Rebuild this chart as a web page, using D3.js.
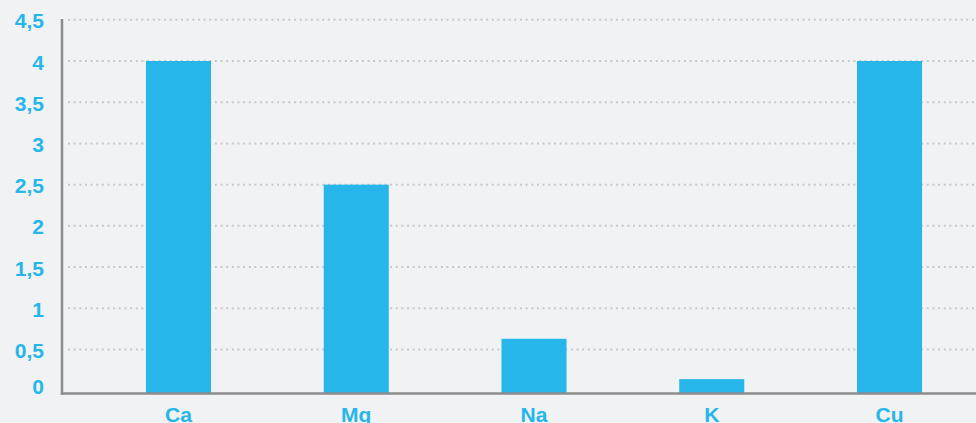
<!DOCTYPE html>
<html>
<head>
<meta charset="utf-8">
<script src="https://cdn.jsdelivr.net/npm/d3@7"></script>
<style>
  html, body { margin: 0; padding: 0; background: #f0f2f4; }
  svg { display: block; }
</style>
</head>
<body>
<script>
// chart data
const elements = ['Ca', 'Mg', 'Na', 'K', 'Cu'];
const amounts = [4, 2.5, 0.63, 0.14, 4];
const yTicks = [0, 0.5, 1, 1.5, 2, 2.5, 3, 3.5, 4, 4.5];

const width = 976, height = 423;
const blue = '#27b6ea';

const svg = d3.select('body').append('svg')
    .attr('width', width)
    .attr('height', height)
    .style('background', '#f0f2f4');

const x = d3.scaleBand()
    .domain(elements)
    .range([89.6, 978.4])
    .paddingInner(0.634)
    .paddingOuter(0.317);

const y = d3.scaleLinear()
    .domain([0, 4.5])
    .range([390.7, 19.8]);

const axisY = 393.6; // where the baseline is drawn

// dotted gridlines (not at zero)
svg.append('g')
    .selectAll('line')
    .data(yTicks.filter(d => d > 0))
    .join('line')
    .attr('x1', 68)
    .attr('x2', width)
    .attr('y1', d => y(d))
    .attr('y2', d => y(d))
    .attr('stroke', '#c6c8ca')
    .attr('stroke-width', 2)
    .attr('stroke-dasharray', '2,3.65');

// bars
svg.append('g')
    .selectAll('rect')
    .data(amounts)
    .join('rect')
    .attr('x', (d, i) => x(elements[i]))
    .attr('width', x.bandwidth())
    .attr('y', d => y(d))
    .attr('height', d => axisY - y(d))
    .attr('fill', blue);

// axes lines
svg.append('line')
    .attr('x1', 62).attr('x2', 62)
    .attr('y1', 19).attr('y2', axisY + 1.25)
    .attr('stroke', '#8c8c8c')
    .attr('stroke-width', 2.5);

svg.append('line')
    .attr('x1', 60.75).attr('x2', width)
    .attr('y1', axisY).attr('y2', axisY)
    .attr('stroke', '#8c8c8c')
    .attr('stroke-width', 2.5);

// y tick labels (the zero label sits a little above the baseline)
svg.append('g')
    .selectAll('text')
    .data(yTicks)
    .join('text')
    .attr('x', 44)
    .attr('y', d => d === 0 ? y(d) - 4 : y(d) + 1)
    .attr('dy', '0.36em')
    .attr('text-anchor', 'end')
    .style('font-family', 'Liberation Sans, Arial, sans-serif')
    .style('font-weight', 'bold')
    .style('font-size', '21px')
    .style('fill', blue)
    .text(d => String(d).replace('.', ','));

// x labels (cut off at the bottom edge, as in the original)
svg.append('g')
    .selectAll('text')
    .data(elements)
    .join('text')
    .attr('x', d => x(d) + x.bandwidth() / 2)
    .attr('y', 422)
    .attr('text-anchor', 'middle')
    .style('font-family', 'Liberation Sans, Arial, sans-serif')
    .style('font-weight', 'bold')
    .style('font-size', '21px')
    .style('fill', blue)
    .text(d => d);
</script>
</body>
</html>
